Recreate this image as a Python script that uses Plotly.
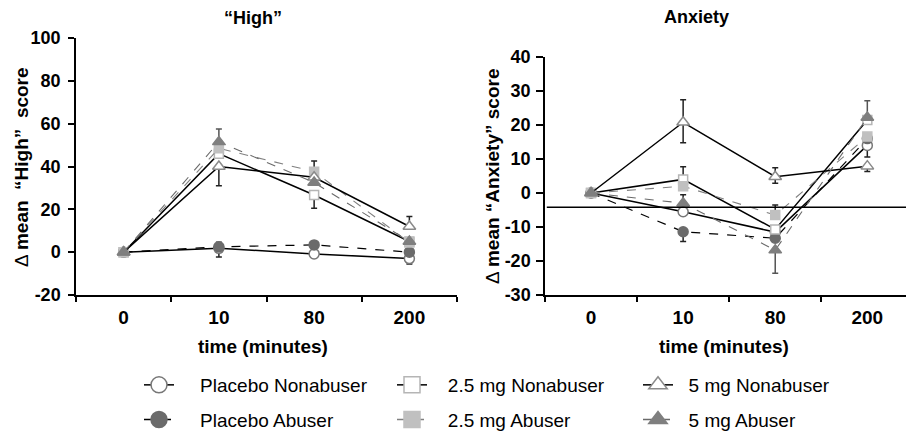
import plotly.graph_objects as go

# ---------------- data ----------------
times = ["0", "10", "80", "200"]

# "High" panel
high_placebo_non = [0, 1.8, -0.8, -3.0]
high_placebo_ab = [0, 2.5, 3.4, 0.0]
high_25_non = [0, 46.0, 26.7, 5.0]
high_25_ab = [0, 48.5, 37.6, 4.5]
high_5_non = [0, 40.0, 35.0, 12.0]
high_5_ab = [0, 51.5, 32.5, 5.0]

high_placebo_non_ep = [0, 2.8, 0, 0]
high_placebo_non_em = [0, 4.0, 0, 2.5]
high_25_non_ep = [0, 0, 0, 0]
high_25_non_em = [0, 0, 6.2, 0]
high_25_ab_ep = [0, 0, 5.0, 0]
high_25_ab_em = [0, 0, 0, 0]
high_5_non_ep = [0, 0, 0, 4.6]
high_5_non_em = [0, 9.0, 0, 0]
high_5_ab_ep = [0, 6.0, 0, 0]
high_5_ab_em = [0, 0, 0, 0]

# Anxiety panel
anx_placebo_non = [0, -5.5, -11.5, 14.0]
anx_placebo_ab = [0, -11.4, -13.3, 16.0]
anx_25_non = [0, 4.0, -10.7, 21.5]
anx_25_ab = [0, 2.0, -6.5, 16.6]
anx_5_non = [0, 20.8, 4.8, 7.9]
anx_5_ab = [0, -3.0, -16.8, 22.2]

anx_placebo_non_ep = [0, 5.0, 0, 0]
anx_placebo_non_em = [0, 0, 0, 3.4]
anx_placebo_ab_ep = [0, 0, 0, 0]
anx_placebo_ab_em = [0, 2.9, 0, 0]
anx_25_non_ep = [0, 3.7, 0, 0]
anx_25_non_em = [0, 0, 0, 0]
anx_25_ab_ep = [0, 0, 3.0, 0]
anx_25_ab_em = [0, 0, 0, 0]
anx_5_non_ep = [0, 6.6, 2.6, 0]
anx_5_non_em = [0, 6.0, 1.9, 1.6]
anx_5_ab_ep = [0, 0, 0, 4.9]
anx_5_ab_em = [0, 0, 6.8, 0]

anx_ref_line = -4.2

high_ticks = [-20, 0, 20, 40, 60, 80, 100]
anx_ticks = [-30, -20, -10, 0, 10, 20, 30, 40]

series_names = ["Placebo Nonabuser", "Placebo Abuser",
                "2.5 mg Nonabuser", "2.5 mg Abuser",
                "5 mg Nonabuser", "5 mg Abuser"]

# ---------------- styles ----------------
FONT = "Liberation Sans, Arial, Helvetica, sans-serif"
styles = {
    "Placebo Nonabuser": dict(symbol="circle", color="white", lc="#777777", line=dict(color="black", width=1.5, dash="solid"), size=10, legend="legend", pad=4),
    "Placebo Abuser": dict(symbol="circle", color="#6b6b6b", lc="#6b6b6b", line=dict(color="black", width=1.2, dash="dash"), size=10, legend="legend", pad=4),
    "2.5 mg Nonabuser": dict(symbol="square", color="white", lc="#b5b5b5", line=dict(color="black", width=1.5, dash="solid"), size=9, legend="legend2", pad=3),
    "2.5 mg Abuser": dict(symbol="square", color="#c0c0c0", lc="#c0c0c0", line=dict(color="#808080", width=1.1, dash="dash"), size=9, legend="legend2", pad=3),
    "5 mg Nonabuser": dict(symbol="triangle-up", color="white", lc="#8a8a8a", line=dict(color="black", width=1.5, dash="solid"), size=11, legend="legend3", pad=2),
    "5 mg Abuser": dict(symbol="triangle-up", color="#7f7f7f", lc="#7f7f7f", line=dict(color="#6a6a6a", width=1.1, dash="dash"), size=11, legend="legend3", pad=2),
}

high_data = {
    "Placebo Nonabuser": (high_placebo_non, high_placebo_non_ep, high_placebo_non_em),
    "Placebo Abuser": (high_placebo_ab, [0] * 4, [0] * 4),
    "2.5 mg Nonabuser": (high_25_non, high_25_non_ep, high_25_non_em),
    "2.5 mg Abuser": (high_25_ab, high_25_ab_ep, high_25_ab_em),
    "5 mg Nonabuser": (high_5_non, high_5_non_ep, high_5_non_em),
    "5 mg Abuser": (high_5_ab, high_5_ab_ep, high_5_ab_em),
}
anx_data = {
    "Placebo Nonabuser": (anx_placebo_non, anx_placebo_non_ep, anx_placebo_non_em),
    "Placebo Abuser": (anx_placebo_ab, anx_placebo_ab_ep, anx_placebo_ab_em),
    "2.5 mg Nonabuser": (anx_25_non, anx_25_non_ep, anx_25_non_em),
    "2.5 mg Abuser": (anx_25_ab, anx_25_ab_ep, anx_25_ab_em),
    "5 mg Nonabuser": (anx_5_non, anx_5_non_ep, anx_5_non_em),
    "5 mg Abuser": (anx_5_ab, anx_5_ab_ep, anx_5_ab_em),
}

fig = go.Figure()

for xa, ya, data in (("x", "y", high_data), ("x2", "y2", anx_data)):
    for name in series_names:
        st = styles[name]
        vals, ep, em = data[name]
        fig.add_trace(go.Scatter(
            x=times, y=vals, xaxis=xa, yaxis=ya, mode="lines+markers", name=name,
            showlegend=False, cliponaxis=False,
            line=st["line"],
            marker=dict(symbol=st["symbol"], size=st["size"], color=st["color"],
                        line=dict(color=st["lc"], width=1.5)),
            error_y=dict(type="data", symmetric=False, array=ep, arrayminus=em,
                         color="#222222" if name != "5 mg Abuser" else "#555555",
                         thickness=1.5, width=3),
        ))

# legend entries (three columns, two rows)
for name in series_names:
    st = styles[name]
    fig.add_trace(go.Scatter(
        x=[None], y=[None], mode="lines+markers", name="\u00a0" * st["pad"] + name,
        legend=st["legend"], legendgroup=name,
        line=dict(color=st["line"]["color"], width=1.5, dash=st["line"]["dash"]),
        marker=dict(symbol=st["symbol"], size=16, color=st["color"],
                    line=dict(color=st["lc"], width=1.5)),
    ))

W, H = 906, 435

def px(x):
    return x / W

def py(y):
    return 1 - y / H

axis_common = dict(showline=True, linecolor="black", linewidth=1.5, showgrid=False, zeroline=False,
                   ticks="outside", tickcolor="black", tickwidth=1.5, automargin=False)

bold = lambda v: "<b>%s</b>" % v

fig.update_layout(
    width=W, height=H, margin=dict(l=0, r=0, t=0, b=0, autoexpand=False),
    paper_bgcolor="white", plot_bgcolor="white",
    font=dict(family=FONT, color="black"),
    xaxis=dict(domain=[px(76), px(457)], type="category", categoryorder="array", categoryarray=times,
               range=[-0.5, 3.5], tickson="boundaries", ticklen=5, ticklabelstandoff=4, anchor="y",
               tickvals=times, ticktext=[bold(t) for t in times],
               tickfont=dict(size=19, family=FONT), **axis_common),
    yaxis=dict(domain=[py(295), py(38)], range=[-20, 100], tickvals=high_ticks,
               ticktext=[bold(t) for t in high_ticks], ticklen=6, ticklabelstandoff=4,
               tickfont=dict(size=18, family=FONT), anchor="x", **axis_common),
    xaxis2=dict(domain=[px(545), 1.0], type="category", categoryorder="array", categoryarray=times,
                range=[-0.5, 3.42], tickson="boundaries", ticklen=5, ticklabelstandoff=4, anchor="y2",
                tickvals=times, ticktext=[bold(t) for t in times],
                tickfont=dict(size=19, family=FONT), **axis_common),
    yaxis2=dict(domain=[py(295), py(57)], range=[-30, 40], tickvals=anx_ticks,
                ticktext=[bold(t) for t in anx_ticks], ticklen=7, ticklabelstandoff=2,
                tickfont=dict(size=18, family=FONT), anchor="x2", **axis_common),
    showlegend=True,
)

leg_common = dict(orientation="v", xanchor="left", yanchor="top", y=py(366), bgcolor="rgba(0,0,0,0)",
                  font=dict(size=19, family=FONT, color="black"), tracegroupgap=7, itemsizing="trace")
fig.update_layout(
    legend=dict(x=px(139), **leg_common),
    legend2=dict(x=px(392), **leg_common),
    legend3=dict(x=px(638), **leg_common),
)

fig.add_shape(type="line", xref="x2 domain", yref="y2", x0=0.005, x1=1.0, y0=anx_ref_line, y1=anx_ref_line,
              line=dict(color="black", width=1.5))

ann = dict(showarrow=False, xref="paper", yref="paper", xanchor="center", yanchor="middle")
fig.add_annotation(text="<b>“High”</b>", x=px(253), y=py(18), font=dict(size=18, family=FONT), **ann)
fig.add_annotation(text="<b>Anxiety</b>", x=px(696), y=py(17), font=dict(size=18, family=FONT), **ann)
fig.add_annotation(text="<b>time (minutes)</b>", x=px(263), y=py(346), font=dict(size=19, family=FONT), **ann)
fig.add_annotation(text="<b>time (minutes)</b>", x=px(724), y=py(346), font=dict(size=19, family=FONT), **ann)
fig.add_annotation(text="Δ <b>mean  “High”  score</b>", x=px(22), y=py(167), textangle=-90,
                   font=dict(size=19, family=FONT), **ann)
fig.add_annotation(text="Δ <b>mean “Anxiety” score</b>", x=px(493), y=py(177), textangle=-90,
                   font=dict(size=19, family=FONT), **ann)

fig.write_html("out.html", config={"displayModeBar": False},
               post_script="document.body.style.margin='0px';document.body.style.padding='0px';")
